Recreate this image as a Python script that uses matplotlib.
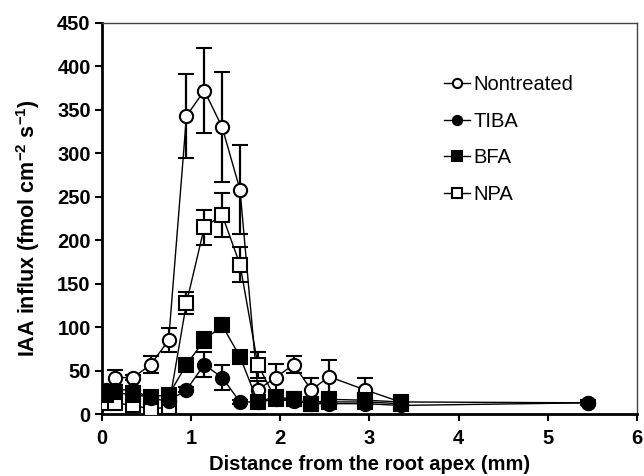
import matplotlib
matplotlib.use("Agg")
import matplotlib.pyplot as plt

plt.rcParams['font.family'] = ['Liberation Sans', 'DejaVu Sans']
plt.rcParams['mathtext.fontset'] = 'custom'
plt.rcParams['mathtext.rm'] = 'Liberation Sans:bold'
plt.rcParams['mathtext.default'] = 'rm'

x_nt = [0.15, 0.35, 0.55, 0.75, 0.95, 1.15, 1.35, 1.55, 1.75, 1.95, 2.15, 2.35, 2.55, 2.95, 3.35, 5.45]
y_nt = [42, 42, 57, 85, 343, 372, 330, 258, 28, 42, 57, 28, 43, 28, 14, 13]
e_nt = [9, 3, 10, 14, 48, 49, 63, 51, 10, 16, 10, 14, 19, 14, 4, 3]

x_tiba = [0.05, 0.15, 0.35, 0.55, 0.75, 0.95, 1.15, 1.35, 1.55, 1.75, 1.95, 2.15, 2.35, 2.55, 2.95, 3.35, 5.45]
y_tiba = [28, 28, 28, 18, 15, 28, 57, 42, 14, 14, 17, 15, 12, 12, 12, 10, 13]
e_tiba = [4, 4, 4, 3, 3, 3, 14, 14, 2, 2, 2, 2, 2, 2, 2, 2, 2]

x_bfa = [0.05, 0.15, 0.35, 0.55, 0.75, 0.95, 1.15, 1.35, 1.55, 1.75, 1.95, 2.15, 2.35, 2.55, 2.95, 3.35]
y_bfa = [22, 25, 22, 20, 22, 57, 85, 102, 66, 14, 20, 17, 12, 17, 16, 14]
e_bfa = [4, 4, 4, 4, 4, 3, 9, 8, 5, 3, 3, 3, 3, 3, 3, 3]

x_npa = [0.05, 0.15, 0.35, 0.55, 0.75, 0.95, 1.15, 1.35, 1.55, 1.75, 1.95, 2.15, 2.35, 2.55, 2.95, 3.35]
y_npa = [13, 13, 10, 6, 8, 128, 215, 229, 172, 57, 17, 17, 12, 14, 14, 12]
e_npa = [3, 3, 3, 3, 3, 13, 20, 25, 20, 15, 3, 3, 3, 3, 3, 3]

labels = ["Nontreated", "TIBA", "BFA", "NPA"]
xticks = [0, 1, 2, 3, 4, 5, 6]
yticks = [0, 50, 100, 150, 200, 250, 300, 350, 400, 450]

fig = plt.figure(figsize=(6.44, 4.76), dpi=100)
ax = fig.add_axes([0.158, 0.130, 0.831, 0.822])

series = [
    (x_nt, y_nt, e_nt, 'o', 'white', labels[0]),
    (x_npa, y_npa, e_npa, 's', 'white', labels[3]),
    (x_bfa, y_bfa, e_bfa, 's', 'black', labels[2]),
    (x_tiba, y_tiba, e_tiba, 'o', 'black', labels[1]),
]
handles = {}
for xs, ys, es, mk, fc, lab in series:
    h = ax.errorbar(xs, ys, yerr=es, fmt='-', marker=mk, color='black', mfc=fc, mec='black',
                    ms=9.5, mew=1.5, lw=1.0, elinewidth=1.6, capsize=5.5, capthick=1.8,
                    label=lab, zorder=3)
    handles[lab] = h

leg_handles = [handles[l][0] for l in labels]
leg = ax.legend(leg_handles, labels, loc='upper left', bbox_to_anchor=(0.606, 0.913),
                frameon=False, fontsize=14.5, handlelength=1.3, handletextpad=0.15,
                labelspacing=0.88, markerscale=0.7)

ax.set_xlim(0, 6)
ax.set_ylim(0, 450)
ax.set_xticks(xticks)
ax.set_yticks(yticks)
ax.tick_params(axis='both', direction='out', length=5, width=1.5, labelsize=14.5, pad=3)
ax.tick_params(axis='x', pad=6)
for lab in ax.get_xticklabels() + ax.get_yticklabels():
    lab.set_fontweight('bold')

for s in ['left', 'bottom']:
    ax.spines[s].set_linewidth(2.0)
    ax.spines[s].set_color('black')
for s in ['top', 'right']:
    ax.spines[s].set_linewidth(1.0)
    ax.spines[s].set_color('#444444')

ax.set_xlabel("Distance from the root apex (mm)", fontsize=14.5, fontweight='bold', labelpad=5)
ax.set_ylabel("IAA influx (fmol cm$^{-2}$ s$^{-1}$)", fontsize=15.5, fontweight='bold')
ax.yaxis.set_label_coords(-0.112, 0.475)

fig.savefig("out.png", dpi=100)
